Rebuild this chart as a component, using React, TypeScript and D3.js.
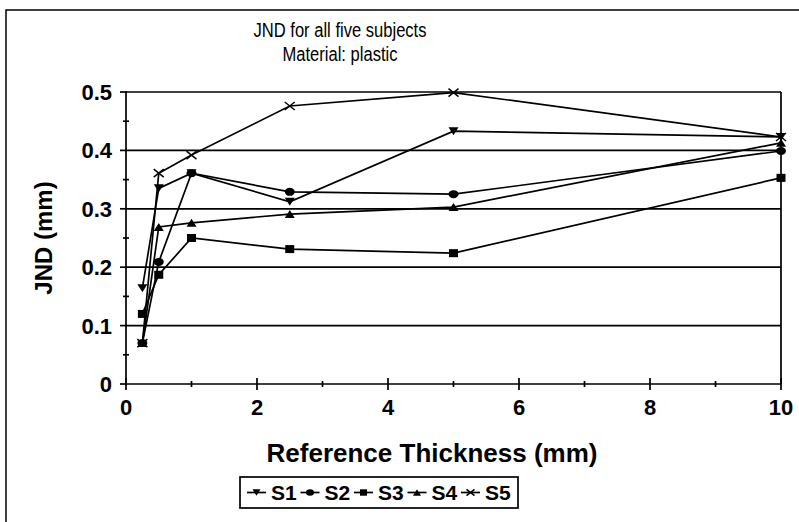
import React from "react";
import * as d3 from "d3";

const thickness = [0.25, 0.5, 1, 2.5, 5, 10];
const seriesNames = ["S1", "S2", "S3", "S4", "S5"];
const s1 = [0.164, 0.335, 0.361, 0.312, 0.433, 0.423];
const s2 = [0.07, 0.209, 0.361, 0.329, 0.325, 0.399];
const s3 = [0.12, 0.187, 0.25, 0.231, 0.224, 0.353];
const s4 = [0.07, 0.269, 0.276, 0.291, 0.303, 0.413];
const s5 = [0.07, 0.361, 0.392, 0.476, 0.499, 0.423];
const markers = ["tridown", "circle", "square", "triup", "x"];
const xTicks = [0, 2, 4, 6, 8, 10];
const yTicks = [0, 0.1, 0.2, 0.3, 0.4, 0.5];

const W = 799, H = 522;
const M = { left: 126, right: 781, top: 92, bottom: 384 };
const FONT = "'Liberation Sans', Arial, Helvetica, sans-serif";
const SW = 1.7;

function Marker({ type, x, y, k = 1 }: { type: string; x: number; y: number; k?: number }) {
  const a = 5 * k, b = 4 * k;
  if (type === "circle") return <ellipse cx={x} cy={y} rx={a} ry={b} fill="#000" />;
  if (type === "square") return <rect x={x - a + 0.5} y={y - b} width={2 * a - 1} height={2 * b} fill="#000" />;
  if (type === "triup")
    return <path d={`M${x - a},${y + b}L${x + a},${y + b}L${x},${y - b}Z`} fill="#000" />;
  if (type === "tridown")
    return <path d={`M${x - a},${y - b}L${x + a},${y - b}L${x},${y + b}Z`} fill="#000" />;
  return (
    <path d={`M${x - a},${y - b}L${x + a},${y + b}M${x - a},${y + b}L${x + a},${y - b}`} stroke="#000" strokeWidth={1.5} fill="none" />
  );
}

export default function App() {
  const x = d3.scaleLinear().domain([0, 10]).range([M.left, M.right]);
  const y = d3.scaleLinear().domain([0, 0.5]).range([M.bottom, M.top]);
  const data = [s1, s2, s3, s4, s5];
  const line = d3
    .line<number>()
    .x((_, i) => x(thickness[i]))
    .y((d) => y(d));
  const minorX = d3.range(1, 10, 2);
  const minorY = d3.range(0.05, 0.5, 0.1);

  const legX = 240, legY = 477, legW = 278, legH = 31;
  const itemW = 53.5;

  return (
    <svg width={W} height={H} style={{ position: "absolute", left: 0, top: 0, background: "#fff" }}>
      <rect x={6} y={10} width={W + 10} height={H + 10} fill="#fff" stroke="#000" strokeWidth={1.5} />
      <g transform="translate(340,0) scale(0.85,1)">
        <text x={0} y={37} textAnchor="middle" fontFamily={FONT} fontSize={19.5}>JND for all five subjects</text>
        <text x={0} y={61} textAnchor="middle" fontFamily={FONT} fontSize={19.5}>Material: plastic</text>
      </g>

      {yTicks.slice(1).map((t) => (
        <line key={t} x1={M.left} x2={M.right} y1={y(t)} y2={y(t)} stroke="#000" strokeWidth={SW} />
      ))}
      <line x1={M.right} x2={M.right} y1={M.top} y2={M.bottom} stroke="#000" strokeWidth={SW} />
      <line x1={M.left} x2={M.left} y1={M.top} y2={M.bottom} stroke="#000" strokeWidth={SW} />
      <line x1={M.left} x2={M.right} y1={M.bottom} y2={M.bottom} stroke="#000" strokeWidth={SW} />
      {yTicks.map((t) => (
        <line key={"yt" + t} x1={M.left - 6} x2={M.left + 1} y1={y(t)} y2={y(t)} stroke="#000" strokeWidth={SW} />
      ))}
      {minorY.map((t) => (
        <line key={"ym" + t} x1={M.left - 3} x2={M.left + 3} y1={y(t)} y2={y(t)} stroke="#000" strokeWidth={SW} />
      ))}
      {xTicks.map((t) => (
        <line key={"xt" + t} x1={x(t)} x2={x(t)} y1={M.bottom - 6} y2={M.bottom + 6} stroke="#000" strokeWidth={SW} />
      ))}
      {minorX.map((t) => (
        <line key={"xm" + t} x1={x(t)} x2={x(t)} y1={M.bottom - 3} y2={M.bottom + 3} stroke="#000" strokeWidth={SW} />
      ))}
      {yTicks.map((t) => (
        <text key={"yl" + t} x={112} y={y(t) + 8} textAnchor="end" fontFamily={FONT} fontWeight="bold" fontSize={22}>
          {t === 0 ? "0" : d3.format(".1f")(t)}
        </text>
      ))}
      {xTicks.map((t) => (
        <text key={"xl" + t} x={x(t)} y={415} textAnchor="middle" fontFamily={FONT} fontWeight="bold" fontSize={22}>
          {t}
        </text>
      ))}
      <text x={432} y={462} textAnchor="middle" fontFamily={FONT} fontWeight="bold" fontSize={26}>Reference Thickness (mm)</text>
      <text transform={`translate(52,${(M.top + M.bottom) / 2}) rotate(-90)`} textAnchor="middle" fontFamily={FONT} fontWeight="bold" fontSize={24}>JND (mm)</text>

      {data.map((d, si) => (
        <g key={si}>
          <path d={line(d) || ""} fill="none" stroke="#000" strokeWidth={SW} />
          {d.map((v, i) => (
            <Marker key={i} type={markers[si]} x={x(thickness[i])} y={y(v)} />
          ))}
        </g>
      ))}

      <rect x={legX} y={legY} width={legW} height={legH} fill="#fff" stroke="#000" strokeWidth={SW} />
      {seriesNames.map((n, i) => {
        const ix = legX + 7 + i * itemW;
        const cy = legY + legH / 2;
        return (
          <g key={n}>
            <line x1={ix} x2={ix + 19} y1={cy} y2={cy} stroke="#000" strokeWidth={SW} />
            <Marker type={markers[i]} x={ix + 9.5} y={cy} k={0.8} />
            <text x={ix + 24} y={cy + 7.5} fontFamily={FONT} fontWeight="bold" fontSize={21}>{n}</text>
          </g>
        );
      })}
    </svg>
  );
}
